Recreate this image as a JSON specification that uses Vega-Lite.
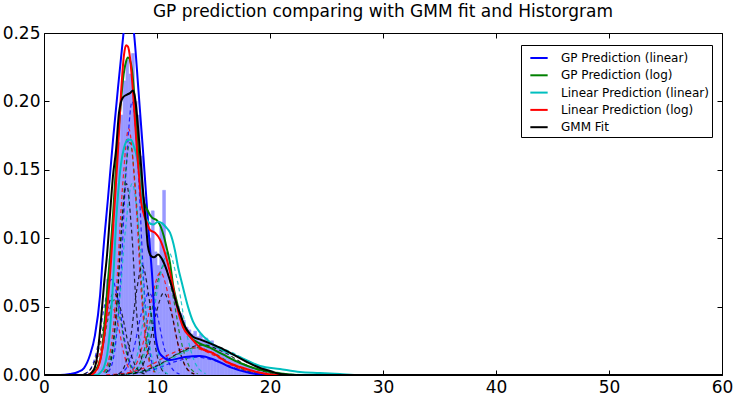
{
  "$schema": "https://vega.github.io/schema/vega-lite/v6.json",
  "width": 678,
  "height": 342,
  "autosize": {"type": "none"},
  "padding": {"left": 44, "top": 33, "right": 13, "bottom": 24},
  "title": {"text": "GP prediction comparing with GMM fit and Historgram", "fontSize": 17, "font": "DejaVu Sans", "fontWeight": "normal", "color": "black", "offset": 3, "anchor": "middle"},
  "config": {
    "view": {"stroke": "black", "strokeWidth": 1},
    "axis": {"labelFont": "DejaVu Sans", "labelFontSize": 17, "labelColor": "black", "domainColor": "black", "tickColor": "black", "grid": false, "title": null}
  },
  "resolve": {"axis": {"x": "independent", "y": "independent"}, "legend": {"color": "independent"}},
  "datasets": {
    "hist": [
      {"x0": 4.5, "x1": 4.75, "h": 0.002}, {"x0": 4.75, "x1": 5.0, "h": 0.006}, {"x0": 5.0, "x1": 5.25, "h": 0.015},
      {"x0": 5.25, "x1": 5.5, "h": 0.035}, {"x0": 5.5, "x1": 5.75, "h": 0.07}, {"x0": 5.75, "x1": 6.0, "h": 0.085},
      {"x0": 6.0, "x1": 6.25, "h": 0.11}, {"x0": 6.25, "x1": 6.5, "h": 0.14}, {"x0": 6.5, "x1": 6.75, "h": 0.17},
      {"x0": 6.75, "x1": 7.0, "h": 0.19}, {"x0": 7.0, "x1": 7.25, "h": 0.215}, {"x0": 7.25, "x1": 7.5, "h": 0.23},
      {"x0": 7.5, "x1": 7.75, "h": 0.22}, {"x0": 7.75, "x1": 8.0, "h": 0.235}, {"x0": 8.0, "x1": 8.25, "h": 0.2},
      {"x0": 8.25, "x1": 8.5, "h": 0.19}, {"x0": 8.5, "x1": 8.75, "h": 0.16}, {"x0": 8.75, "x1": 9.0, "h": 0.13},
      {"x0": 9.0, "x1": 9.25, "h": 0.12}, {"x0": 9.25, "x1": 9.5, "h": 0.1}, {"x0": 9.5, "x1": 9.75, "h": 0.12},
      {"x0": 9.75, "x1": 10.0, "h": 0.09}, {"x0": 10.0, "x1": 10.25, "h": 0.08}, {"x0": 10.25, "x1": 10.5, "h": 0.11},
      {"x0": 10.5, "x1": 10.75, "h": 0.135}, {"x0": 10.75, "x1": 11.0, "h": 0.09}, {"x0": 11.0, "x1": 11.25, "h": 0.065},
      {"x0": 11.25, "x1": 11.5, "h": 0.06}, {"x0": 11.5, "x1": 11.75, "h": 0.055}, {"x0": 11.75, "x1": 12.0, "h": 0.05},
      {"x0": 12.0, "x1": 12.25, "h": 0.045}, {"x0": 12.25, "x1": 12.5, "h": 0.04}, {"x0": 12.5, "x1": 12.75, "h": 0.035},
      {"x0": 12.75, "x1": 13.0, "h": 0.033}, {"x0": 13.0, "x1": 13.25, "h": 0.03}, {"x0": 13.25, "x1": 13.5, "h": 0.032},
      {"x0": 13.5, "x1": 13.75, "h": 0.028}, {"x0": 13.75, "x1": 14.0, "h": 0.03}, {"x0": 14.0, "x1": 14.25, "h": 0.026},
      {"x0": 14.25, "x1": 14.5, "h": 0.027}, {"x0": 14.5, "x1": 14.75, "h": 0.024}, {"x0": 14.75, "x1": 15.0, "h": 0.025},
      {"x0": 15.0, "x1": 15.25, "h": 0.022}, {"x0": 15.25, "x1": 15.5, "h": 0.02}, {"x0": 15.5, "x1": 15.75, "h": 0.019},
      {"x0": 15.75, "x1": 16.0, "h": 0.017}, {"x0": 16.0, "x1": 16.25, "h": 0.016}, {"x0": 16.25, "x1": 16.5, "h": 0.014},
      {"x0": 16.5, "x1": 16.75, "h": 0.012}, {"x0": 16.75, "x1": 17.0, "h": 0.011}, {"x0": 17.0, "x1": 17.25, "h": 0.01},
      {"x0": 17.25, "x1": 17.5, "h": 0.009}, {"x0": 17.5, "x1": 17.75, "h": 0.008}, {"x0": 17.75, "x1": 18.0, "h": 0.007},
      {"x0": 18.0, "x1": 18.25, "h": 0.006}, {"x0": 18.25, "x1": 18.5, "h": 0.005}, {"x0": 18.5, "x1": 18.75, "h": 0.005},
      {"x0": 18.75, "x1": 19.0, "h": 0.004}, {"x0": 19.0, "x1": 19.25, "h": 0.003}, {"x0": 19.25, "x1": 19.5, "h": 0.003},
      {"x0": 19.5, "x1": 19.75, "h": 0.002}, {"x0": 19.75, "x1": 20.0, "h": 0.002}, {"x0": 20.0, "x1": 20.25, "h": 0.001},
      {"x0": 20.25, "x1": 20.5, "h": 0.001}
    ],
    "comps": [
      {"c": "B1", "s": "GP Prediction (linear)", "x": 5.7, "y": 0.0022}, {"c": "B1", "s": "GP Prediction (linear)", "x": 6.225, "y": 0.016}, {"c": "B1", "s": "GP Prediction (linear)", "x": 6.75, "y": 0.065}, {"c": "B1", "s": "GP Prediction (linear)", "x": 7.275, "y": 0.151}, {"c": "B1", "s": "GP Prediction (linear)", "x": 7.8, "y": 0.2}, {"c": "B1", "s": "GP Prediction (linear)", "x": 8.325, "y": 0.151}, {"c": "B1", "s": "GP Prediction (linear)", "x": 8.85, "y": 0.065}, {"c": "B1", "s": "GP Prediction (linear)", "x": 9.375, "y": 0.016}, {"c": "B1", "s": "GP Prediction (linear)", "x": 9.9, "y": 0.0022},
      {"c": "B2", "s": "GP Prediction (linear)", "x": 3.6, "y": 0.0008}, {"c": "B2", "s": "GP Prediction (linear)", "x": 4.2, "y": 0.0056}, {"c": "B2", "s": "GP Prediction (linear)", "x": 4.8, "y": 0.0228}, {"c": "B2", "s": "GP Prediction (linear)", "x": 5.4, "y": 0.0529}, {"c": "B2", "s": "GP Prediction (linear)", "x": 6.0, "y": 0.07}, {"c": "B2", "s": "GP Prediction (linear)", "x": 6.6, "y": 0.0529}, {"c": "B2", "s": "GP Prediction (linear)", "x": 7.2, "y": 0.0228}, {"c": "B2", "s": "GP Prediction (linear)", "x": 7.8, "y": 0.0056}, {"c": "B2", "s": "GP Prediction (linear)", "x": 8.4, "y": 0.0008},
      {"c": "B3", "s": "GP Prediction (linear)", "x": 6.6, "y": 0.0007}, {"c": "B3", "s": "GP Prediction (linear)", "x": 7.275, "y": 0.0048}, {"c": "B3", "s": "GP Prediction (linear)", "x": 7.95, "y": 0.0195}, {"c": "B3", "s": "GP Prediction (linear)", "x": 8.625, "y": 0.0453}, {"c": "B3", "s": "GP Prediction (linear)", "x": 9.3, "y": 0.06}, {"c": "B3", "s": "GP Prediction (linear)", "x": 9.975, "y": 0.0453}, {"c": "B3", "s": "GP Prediction (linear)", "x": 10.65, "y": 0.0195}, {"c": "B3", "s": "GP Prediction (linear)", "x": 11.325, "y": 0.0048}, {"c": "B3", "s": "GP Prediction (linear)", "x": 12.0, "y": 0.0007},
      {"c": "B4", "s": "GP Prediction (linear)", "x": 6.0, "y": 0.0001}, {"c": "B4", "s": "GP Prediction (linear)", "x": 7.875, "y": 0.001}, {"c": "B4", "s": "GP Prediction (linear)", "x": 9.75, "y": 0.0042}, {"c": "B4", "s": "GP Prediction (linear)", "x": 11.625, "y": 0.0098}, {"c": "B4", "s": "GP Prediction (linear)", "x": 13.5, "y": 0.013}, {"c": "B4", "s": "GP Prediction (linear)", "x": 15.375, "y": 0.0098}, {"c": "B4", "s": "GP Prediction (linear)", "x": 17.25, "y": 0.0042}, {"c": "B4", "s": "GP Prediction (linear)", "x": 19.125, "y": 0.001}, {"c": "B4", "s": "GP Prediction (linear)", "x": 21.0, "y": 0.0001},
      {"c": "G1", "s": "GP Prediction (log)", "x": 5.35, "y": 0.0019}, {"c": "G1", "s": "GP Prediction (log)", "x": 5.9125, "y": 0.0136}, {"c": "G1", "s": "GP Prediction (log)", "x": 6.475, "y": 0.0553}, {"c": "G1", "s": "GP Prediction (log)", "x": 7.0375, "y": 0.1284}, {"c": "G1", "s": "GP Prediction (log)", "x": 7.6, "y": 0.17}, {"c": "G1", "s": "GP Prediction (log)", "x": 8.1625, "y": 0.1284}, {"c": "G1", "s": "GP Prediction (log)", "x": 8.725, "y": 0.0553}, {"c": "G1", "s": "GP Prediction (log)", "x": 9.2875, "y": 0.0136}, {"c": "G1", "s": "GP Prediction (log)", "x": 9.85, "y": 0.0019},
      {"c": "G2", "s": "GP Prediction (log)", "x": 7.6, "y": 0.0009}, {"c": "G2", "s": "GP Prediction (log)", "x": 8.35, "y": 0.0064}, {"c": "G2", "s": "GP Prediction (log)", "x": 9.1, "y": 0.026}, {"c": "G2", "s": "GP Prediction (log)", "x": 9.85, "y": 0.0604}, {"c": "G2", "s": "GP Prediction (log)", "x": 10.6, "y": 0.08}, {"c": "G2", "s": "GP Prediction (log)", "x": 11.35, "y": 0.0604}, {"c": "G2", "s": "GP Prediction (log)", "x": 12.1, "y": 0.026}, {"c": "G2", "s": "GP Prediction (log)", "x": 12.85, "y": 0.0064}, {"c": "G2", "s": "GP Prediction (log)", "x": 13.6, "y": 0.0009},
      {"c": "G3", "s": "GP Prediction (log)", "x": 6.6, "y": 0.0002}, {"c": "G3", "s": "GP Prediction (log)", "x": 8.325, "y": 0.0016}, {"c": "G3", "s": "GP Prediction (log)", "x": 10.05, "y": 0.0065}, {"c": "G3", "s": "GP Prediction (log)", "x": 11.775, "y": 0.0151}, {"c": "G3", "s": "GP Prediction (log)", "x": 13.5, "y": 0.02}, {"c": "G3", "s": "GP Prediction (log)", "x": 15.225, "y": 0.0151}, {"c": "G3", "s": "GP Prediction (log)", "x": 16.95, "y": 0.0065}, {"c": "G3", "s": "GP Prediction (log)", "x": 18.675, "y": 0.0016}, {"c": "G3", "s": "GP Prediction (log)", "x": 20.4, "y": 0.0002},
      {"c": "G4", "s": "GP Prediction (log)", "x": 4.1, "y": 0.0006}, {"c": "G4", "s": "GP Prediction (log)", "x": 4.625, "y": 0.0044}, {"c": "G4", "s": "GP Prediction (log)", "x": 5.15, "y": 0.0179}, {"c": "G4", "s": "GP Prediction (log)", "x": 5.675, "y": 0.0415}, {"c": "G4", "s": "GP Prediction (log)", "x": 6.2, "y": 0.055}, {"c": "G4", "s": "GP Prediction (log)", "x": 6.725, "y": 0.0415}, {"c": "G4", "s": "GP Prediction (log)", "x": 7.25, "y": 0.0179}, {"c": "G4", "s": "GP Prediction (log)", "x": 7.775, "y": 0.0044}, {"c": "G4", "s": "GP Prediction (log)", "x": 8.3, "y": 0.0006},
      {"c": "C1", "s": "Linear Prediction (linear)", "x": 5.4, "y": 0.0015}, {"c": "C1", "s": "Linear Prediction (linear)", "x": 6.0, "y": 0.0112}, {"c": "C1", "s": "Linear Prediction (linear)", "x": 6.6, "y": 0.0455}, {"c": "C1", "s": "Linear Prediction (linear)", "x": 7.2, "y": 0.1057}, {"c": "C1", "s": "Linear Prediction (linear)", "x": 7.8, "y": 0.14}, {"c": "C1", "s": "Linear Prediction (linear)", "x": 8.4, "y": 0.1057}, {"c": "C1", "s": "Linear Prediction (linear)", "x": 9.0, "y": 0.0455}, {"c": "C1", "s": "Linear Prediction (linear)", "x": 9.6, "y": 0.0112}, {"c": "C1", "s": "Linear Prediction (linear)", "x": 10.2, "y": 0.0015},
      {"c": "C2", "s": "Linear Prediction (linear)", "x": 7.7, "y": 0.001}, {"c": "C2", "s": "Linear Prediction (linear)", "x": 8.525, "y": 0.0072}, {"c": "C2", "s": "Linear Prediction (linear)", "x": 9.35, "y": 0.0293}, {"c": "C2", "s": "Linear Prediction (linear)", "x": 10.175, "y": 0.068}, {"c": "C2", "s": "Linear Prediction (linear)", "x": 11.0, "y": 0.09}, {"c": "C2", "s": "Linear Prediction (linear)", "x": 11.825, "y": 0.068}, {"c": "C2", "s": "Linear Prediction (linear)", "x": 12.65, "y": 0.0293}, {"c": "C2", "s": "Linear Prediction (linear)", "x": 13.475, "y": 0.0072}, {"c": "C2", "s": "Linear Prediction (linear)", "x": 14.3, "y": 0.001},
      {"c": "C3", "s": "Linear Prediction (linear)", "x": 6.1, "y": 0.0002}, {"c": "C3", "s": "Linear Prediction (linear)", "x": 8.2, "y": 0.0018}, {"c": "C3", "s": "Linear Prediction (linear)", "x": 10.3, "y": 0.0072}, {"c": "C3", "s": "Linear Prediction (linear)", "x": 12.4, "y": 0.0166}, {"c": "C3", "s": "Linear Prediction (linear)", "x": 14.5, "y": 0.022}, {"c": "C3", "s": "Linear Prediction (linear)", "x": 16.6, "y": 0.0166}, {"c": "C3", "s": "Linear Prediction (linear)", "x": 18.7, "y": 0.0072}, {"c": "C3", "s": "Linear Prediction (linear)", "x": 20.8, "y": 0.0018}, {"c": "C3", "s": "Linear Prediction (linear)", "x": 22.9, "y": 0.0002},
      {"c": "C4", "s": "Linear Prediction (linear)", "x": 7.4, "y": 0.0006}, {"c": "C4", "s": "Linear Prediction (linear)", "x": 7.85, "y": 0.004}, {"c": "C4", "s": "Linear Prediction (linear)", "x": 8.3, "y": 0.0163}, {"c": "C4", "s": "Linear Prediction (linear)", "x": 8.75, "y": 0.0378}, {"c": "C4", "s": "Linear Prediction (linear)", "x": 9.2, "y": 0.05}, {"c": "C4", "s": "Linear Prediction (linear)", "x": 9.65, "y": 0.0378}, {"c": "C4", "s": "Linear Prediction (linear)", "x": 10.1, "y": 0.0163}, {"c": "C4", "s": "Linear Prediction (linear)", "x": 10.55, "y": 0.004}, {"c": "C4", "s": "Linear Prediction (linear)", "x": 11.0, "y": 0.0006},
      {"c": "R1", "s": "Linear Prediction (log)", "x": 5.25, "y": 0.002}, {"c": "R1", "s": "Linear Prediction (log)", "x": 5.8125, "y": 0.0144}, {"c": "R1", "s": "Linear Prediction (log)", "x": 6.375, "y": 0.0585}, {"c": "R1", "s": "Linear Prediction (log)", "x": 6.9375, "y": 0.1359}, {"c": "R1", "s": "Linear Prediction (log)", "x": 7.5, "y": 0.18}, {"c": "R1", "s": "Linear Prediction (log)", "x": 8.0625, "y": 0.1359}, {"c": "R1", "s": "Linear Prediction (log)", "x": 8.625, "y": 0.0585}, {"c": "R1", "s": "Linear Prediction (log)", "x": 9.1875, "y": 0.0144}, {"c": "R1", "s": "Linear Prediction (log)", "x": 9.75, "y": 0.002},
      {"c": "R2", "s": "Linear Prediction (log)", "x": 7.3, "y": 0.0008}, {"c": "R2", "s": "Linear Prediction (log)", "x": 8.05, "y": 0.006}, {"c": "R2", "s": "Linear Prediction (log)", "x": 8.8, "y": 0.0244}, {"c": "R2", "s": "Linear Prediction (log)", "x": 9.55, "y": 0.0566}, {"c": "R2", "s": "Linear Prediction (log)", "x": 10.3, "y": 0.075}, {"c": "R2", "s": "Linear Prediction (log)", "x": 11.05, "y": 0.0566}, {"c": "R2", "s": "Linear Prediction (log)", "x": 11.8, "y": 0.0244}, {"c": "R2", "s": "Linear Prediction (log)", "x": 12.55, "y": 0.006}, {"c": "R2", "s": "Linear Prediction (log)", "x": 13.3, "y": 0.0008},
      {"c": "R3", "s": "Linear Prediction (log)", "x": 5.5, "y": 0.0002}, {"c": "R3", "s": "Linear Prediction (log)", "x": 7.375, "y": 0.0016}, {"c": "R3", "s": "Linear Prediction (log)", "x": 9.25, "y": 0.0065}, {"c": "R3", "s": "Linear Prediction (log)", "x": 11.125, "y": 0.0151}, {"c": "R3", "s": "Linear Prediction (log)", "x": 13.0, "y": 0.02}, {"c": "R3", "s": "Linear Prediction (log)", "x": 14.875, "y": 0.0151}, {"c": "R3", "s": "Linear Prediction (log)", "x": 16.75, "y": 0.0065}, {"c": "R3", "s": "Linear Prediction (log)", "x": 18.625, "y": 0.0016}, {"c": "R3", "s": "Linear Prediction (log)", "x": 20.5, "y": 0.0002},
      {"c": "R4", "s": "Linear Prediction (log)", "x": 3.9, "y": 0.0006}, {"c": "R4", "s": "Linear Prediction (log)", "x": 4.425, "y": 0.004}, {"c": "R4", "s": "Linear Prediction (log)", "x": 4.95, "y": 0.0163}, {"c": "R4", "s": "Linear Prediction (log)", "x": 5.475, "y": 0.0378}, {"c": "R4", "s": "Linear Prediction (log)", "x": 6.0, "y": 0.05}, {"c": "R4", "s": "Linear Prediction (log)", "x": 6.525, "y": 0.0378}, {"c": "R4", "s": "Linear Prediction (log)", "x": 7.05, "y": 0.0163}, {"c": "R4", "s": "Linear Prediction (log)", "x": 7.575, "y": 0.004}, {"c": "R4", "s": "Linear Prediction (log)", "x": 8.1, "y": 0.0006},
      {"c": "K1", "s": "GMM Fit", "x": 5.5, "y": 0.0015}, {"c": "K1", "s": "GMM Fit", "x": 5.95, "y": 0.0112}, {"c": "K1", "s": "GMM Fit", "x": 6.4, "y": 0.0455}, {"c": "K1", "s": "GMM Fit", "x": 6.85, "y": 0.1057}, {"c": "K1", "s": "GMM Fit", "x": 7.3, "y": 0.14}, {"c": "K1", "s": "GMM Fit", "x": 7.75, "y": 0.1057}, {"c": "K1", "s": "GMM Fit", "x": 8.2, "y": 0.0455}, {"c": "K1", "s": "GMM Fit", "x": 8.65, "y": 0.0112}, {"c": "K1", "s": "GMM Fit", "x": 9.1, "y": 0.0015},
      {"c": "K2", "s": "GMM Fit", "x": 3.5, "y": 0.0007}, {"c": "K2", "s": "GMM Fit", "x": 4.175, "y": 0.0048}, {"c": "K2", "s": "GMM Fit", "x": 4.85, "y": 0.0195}, {"c": "K2", "s": "GMM Fit", "x": 5.525, "y": 0.0453}, {"c": "K2", "s": "GMM Fit", "x": 6.2, "y": 0.06}, {"c": "K2", "s": "GMM Fit", "x": 6.875, "y": 0.0453}, {"c": "K2", "s": "GMM Fit", "x": 7.55, "y": 0.0195}, {"c": "K2", "s": "GMM Fit", "x": 8.225, "y": 0.0048}, {"c": "K2", "s": "GMM Fit", "x": 8.9, "y": 0.0007},
      {"c": "K3", "s": "GMM Fit", "x": 6.6, "y": 0.0009}, {"c": "K3", "s": "GMM Fit", "x": 7.125, "y": 0.0064}, {"c": "K3", "s": "GMM Fit", "x": 7.65, "y": 0.026}, {"c": "K3", "s": "GMM Fit", "x": 8.175, "y": 0.0604}, {"c": "K3", "s": "GMM Fit", "x": 8.7, "y": 0.08}, {"c": "K3", "s": "GMM Fit", "x": 9.225, "y": 0.0604}, {"c": "K3", "s": "GMM Fit", "x": 9.75, "y": 0.026}, {"c": "K3", "s": "GMM Fit", "x": 10.275, "y": 0.0064}, {"c": "K3", "s": "GMM Fit", "x": 10.8, "y": 0.0009},
      {"c": "K4", "s": "GMM Fit", "x": 7.9, "y": 0.0007}, {"c": "K4", "s": "GMM Fit", "x": 8.575, "y": 0.0048}, {"c": "K4", "s": "GMM Fit", "x": 9.25, "y": 0.0195}, {"c": "K4", "s": "GMM Fit", "x": 9.925, "y": 0.0453}, {"c": "K4", "s": "GMM Fit", "x": 10.6, "y": 0.06}, {"c": "K4", "s": "GMM Fit", "x": 11.275, "y": 0.0453}, {"c": "K4", "s": "GMM Fit", "x": 11.95, "y": 0.0195}, {"c": "K4", "s": "GMM Fit", "x": 12.625, "y": 0.0048}, {"c": "K4", "s": "GMM Fit", "x": 13.3, "y": 0.0007},
      {"c": "K5", "s": "GMM Fit", "x": 6.2, "y": 0.0002}, {"c": "K5", "s": "GMM Fit", "x": 8.15, "y": 0.0018}, {"c": "K5", "s": "GMM Fit", "x": 10.1, "y": 0.0072}, {"c": "K5", "s": "GMM Fit", "x": 12.05, "y": 0.0166}, {"c": "K5", "s": "GMM Fit", "x": 14.0, "y": 0.022}, {"c": "K5", "s": "GMM Fit", "x": 15.95, "y": 0.0166}, {"c": "K5", "s": "GMM Fit", "x": 17.9, "y": 0.0072}, {"c": "K5", "s": "GMM Fit", "x": 19.85, "y": 0.0018}, {"c": "K5", "s": "GMM Fit", "x": 21.8, "y": 0.0002}
    ],
    "lines": [
      {"s": "GP Prediction (linear)", "x": 0, "y": 0}, {"s": "GP Prediction (linear)", "x": 1.42, "y": 0}, {"s": "GP Prediction (linear)", "x": 2.3, "y": 0.0007}, {"s": "GP Prediction (linear)", "x": 3.01, "y": 0.0022}, {"s": "GP Prediction (linear)", "x": 3.54, "y": 0.0051}, {"s": "GP Prediction (linear)", "x": 4.07, "y": 0.0146}, {"s": "GP Prediction (linear)", "x": 4.51, "y": 0.029}, {"s": "GP Prediction (linear)", "x": 4.96, "y": 0.058}, {"s": "GP Prediction (linear)", "x": 5.22, "y": 0.088}, {"s": "GP Prediction (linear)", "x": 5.66, "y": 0.129}, {"s": "GP Prediction (linear)", "x": 6.11, "y": 0.172}, {"s": "GP Prediction (linear)", "x": 6.55, "y": 0.21}, {"s": "GP Prediction (linear)", "x": 6.99, "y": 0.246}, {"s": "GP Prediction (linear)", "x": 7.2, "y": 0.262}, {"s": "GP Prediction (linear)", "x": 7.48, "y": 0.268}, {"s": "GP Prediction (linear)", "x": 7.75, "y": 0.262}, {"s": "GP Prediction (linear)", "x": 7.96, "y": 0.25}, {"s": "GP Prediction (linear)", "x": 8.36, "y": 0.208}, {"s": "GP Prediction (linear)", "x": 8.76, "y": 0.164}, {"s": "GP Prediction (linear)", "x": 8.94, "y": 0.143}, {"s": "GP Prediction (linear)", "x": 9.29, "y": 0.102}, {"s": "GP Prediction (linear)", "x": 9.65, "y": 0.062}, {"s": "GP Prediction (linear)", "x": 9.82, "y": 0.033}, {"s": "GP Prediction (linear)", "x": 10.0, "y": 0.022}, {"s": "GP Prediction (linear)", "x": 10.35, "y": 0.0146}, {"s": "GP Prediction (linear)", "x": 11.15, "y": 0.011}, {"s": "GP Prediction (linear)", "x": 12.48, "y": 0.0132}, {"s": "GP Prediction (linear)", "x": 13.81, "y": 0.0139}, {"s": "GP Prediction (linear)", "x": 15.13, "y": 0.011}, {"s": "GP Prediction (linear)", "x": 16.46, "y": 0.0058}, {"s": "GP Prediction (linear)", "x": 18.23, "y": 0.0015}, {"s": "GP Prediction (linear)", "x": 20.0, "y": 0}, {"s": "GP Prediction (linear)", "x": 60, "y": 0},
      {"s": "GP Prediction (log)", "x": 0, "y": 0}, {"s": "GP Prediction (log)", "x": 3.89, "y": 0}, {"s": "GP Prediction (log)", "x": 4.34, "y": 0.0015}, {"s": "GP Prediction (log)", "x": 4.69, "y": 0.0051}, {"s": "GP Prediction (log)", "x": 4.96, "y": 0.011}, {"s": "GP Prediction (log)", "x": 5.13, "y": 0.018}, {"s": "GP Prediction (log)", "x": 5.31, "y": 0.033}, {"s": "GP Prediction (log)", "x": 5.49, "y": 0.051}, {"s": "GP Prediction (log)", "x": 5.66, "y": 0.069}, {"s": "GP Prediction (log)", "x": 5.84, "y": 0.086}, {"s": "GP Prediction (log)", "x": 6.11, "y": 0.117}, {"s": "GP Prediction (log)", "x": 6.46, "y": 0.164}, {"s": "GP Prediction (log)", "x": 6.73, "y": 0.192}, {"s": "GP Prediction (log)", "x": 6.99, "y": 0.216}, {"s": "GP Prediction (log)", "x": 7.26, "y": 0.229}, {"s": "GP Prediction (log)", "x": 7.43, "y": 0.232}, {"s": "GP Prediction (log)", "x": 7.61, "y": 0.23}, {"s": "GP Prediction (log)", "x": 7.79, "y": 0.223}, {"s": "GP Prediction (log)", "x": 7.96, "y": 0.208}, {"s": "GP Prediction (log)", "x": 8.14, "y": 0.19}, {"s": "GP Prediction (log)", "x": 8.32, "y": 0.164}, {"s": "GP Prediction (log)", "x": 8.5, "y": 0.146}, {"s": "GP Prediction (log)", "x": 8.76, "y": 0.129}, {"s": "GP Prediction (log)", "x": 9.12, "y": 0.121}, {"s": "GP Prediction (log)", "x": 9.56, "y": 0.115}, {"s": "GP Prediction (log)", "x": 10.0, "y": 0.113}, {"s": "GP Prediction (log)", "x": 10.35, "y": 0.108}, {"s": "GP Prediction (log)", "x": 10.62, "y": 0.101}, {"s": "GP Prediction (log)", "x": 10.88, "y": 0.092}, {"s": "GP Prediction (log)", "x": 11.15, "y": 0.082}, {"s": "GP Prediction (log)", "x": 11.42, "y": 0.066}, {"s": "GP Prediction (log)", "x": 11.77, "y": 0.053}, {"s": "GP Prediction (log)", "x": 12.04, "y": 0.044}, {"s": "GP Prediction (log)", "x": 12.48, "y": 0.034}, {"s": "GP Prediction (log)", "x": 12.92, "y": 0.028}, {"s": "GP Prediction (log)", "x": 13.81, "y": 0.023}, {"s": "GP Prediction (log)", "x": 14.69, "y": 0.02}, {"s": "GP Prediction (log)", "x": 15.84, "y": 0.015}, {"s": "GP Prediction (log)", "x": 17.35, "y": 0.0088}, {"s": "GP Prediction (log)", "x": 18.85, "y": 0.0044}, {"s": "GP Prediction (log)", "x": 20.0, "y": 0.0022}, {"s": "GP Prediction (log)", "x": 21.33, "y": 0.0007}, {"s": "GP Prediction (log)", "x": 22.65, "y": 0}, {"s": "GP Prediction (log)", "x": 60, "y": 0},
      {"s": "Linear Prediction (linear)", "x": 0, "y": 0}, {"s": "Linear Prediction (linear)", "x": 4.69, "y": 0}, {"s": "Linear Prediction (linear)", "x": 5.04, "y": 0.0022}, {"s": "Linear Prediction (linear)", "x": 5.31, "y": 0.0058}, {"s": "Linear Prediction (linear)", "x": 5.58, "y": 0.0146}, {"s": "Linear Prediction (linear)", "x": 5.84, "y": 0.033}, {"s": "Linear Prediction (linear)", "x": 6.02, "y": 0.055}, {"s": "Linear Prediction (linear)", "x": 6.19, "y": 0.08}, {"s": "Linear Prediction (linear)", "x": 6.37, "y": 0.11}, {"s": "Linear Prediction (linear)", "x": 6.55, "y": 0.132}, {"s": "Linear Prediction (linear)", "x": 6.81, "y": 0.154}, {"s": "Linear Prediction (linear)", "x": 7.08, "y": 0.166}, {"s": "Linear Prediction (linear)", "x": 7.43, "y": 0.172}, {"s": "Linear Prediction (linear)", "x": 7.7, "y": 0.172}, {"s": "Linear Prediction (linear)", "x": 7.96, "y": 0.167}, {"s": "Linear Prediction (linear)", "x": 8.23, "y": 0.159}, {"s": "Linear Prediction (linear)", "x": 8.5, "y": 0.143}, {"s": "Linear Prediction (linear)", "x": 8.67, "y": 0.128}, {"s": "Linear Prediction (linear)", "x": 8.94, "y": 0.117}, {"s": "Linear Prediction (linear)", "x": 9.2, "y": 0.112}, {"s": "Linear Prediction (linear)", "x": 9.65, "y": 0.11}, {"s": "Linear Prediction (linear)", "x": 10.09, "y": 0.112}, {"s": "Linear Prediction (linear)", "x": 10.44, "y": 0.111}, {"s": "Linear Prediction (linear)", "x": 10.8, "y": 0.108}, {"s": "Linear Prediction (linear)", "x": 11.15, "y": 0.104}, {"s": "Linear Prediction (linear)", "x": 11.59, "y": 0.091}, {"s": "Linear Prediction (linear)", "x": 11.86, "y": 0.079}, {"s": "Linear Prediction (linear)", "x": 12.21, "y": 0.067}, {"s": "Linear Prediction (linear)", "x": 12.74, "y": 0.05}, {"s": "Linear Prediction (linear)", "x": 13.19, "y": 0.039}, {"s": "Linear Prediction (linear)", "x": 13.81, "y": 0.031}, {"s": "Linear Prediction (linear)", "x": 14.69, "y": 0.024}, {"s": "Linear Prediction (linear)", "x": 15.84, "y": 0.018}, {"s": "Linear Prediction (linear)", "x": 17.35, "y": 0.013}, {"s": "Linear Prediction (linear)", "x": 19.12, "y": 0.0066}, {"s": "Linear Prediction (linear)", "x": 20.88, "y": 0.0044}, {"s": "Linear Prediction (linear)", "x": 22.65, "y": 0.0022}, {"s": "Linear Prediction (linear)", "x": 24.42, "y": 0.0015}, {"s": "Linear Prediction (linear)", "x": 26.19, "y": 0.0007}, {"s": "Linear Prediction (linear)", "x": 27.96, "y": 0}, {"s": "Linear Prediction (linear)", "x": 60, "y": 0},
      {"s": "Linear Prediction (log)", "x": 0, "y": 0}, {"s": "Linear Prediction (log)", "x": 4.07, "y": 0}, {"s": "Linear Prediction (log)", "x": 4.51, "y": 0.0022}, {"s": "Linear Prediction (log)", "x": 4.87, "y": 0.0073}, {"s": "Linear Prediction (log)", "x": 5.13, "y": 0.017}, {"s": "Linear Prediction (log)", "x": 5.4, "y": 0.033}, {"s": "Linear Prediction (log)", "x": 5.66, "y": 0.055}, {"s": "Linear Prediction (log)", "x": 5.93, "y": 0.083}, {"s": "Linear Prediction (log)", "x": 6.19, "y": 0.117}, {"s": "Linear Prediction (log)", "x": 6.55, "y": 0.164}, {"s": "Linear Prediction (log)", "x": 6.81, "y": 0.205}, {"s": "Linear Prediction (log)", "x": 7.08, "y": 0.234}, {"s": "Linear Prediction (log)", "x": 7.26, "y": 0.241}, {"s": "Linear Prediction (log)", "x": 7.43, "y": 0.24}, {"s": "Linear Prediction (log)", "x": 7.61, "y": 0.232}, {"s": "Linear Prediction (log)", "x": 7.79, "y": 0.216}, {"s": "Linear Prediction (log)", "x": 8.05, "y": 0.186}, {"s": "Linear Prediction (log)", "x": 8.23, "y": 0.164}, {"s": "Linear Prediction (log)", "x": 8.41, "y": 0.146}, {"s": "Linear Prediction (log)", "x": 8.58, "y": 0.128}, {"s": "Linear Prediction (log)", "x": 8.85, "y": 0.117}, {"s": "Linear Prediction (log)", "x": 9.12, "y": 0.111}, {"s": "Linear Prediction (log)", "x": 9.38, "y": 0.106}, {"s": "Linear Prediction (log)", "x": 9.82, "y": 0.104}, {"s": "Linear Prediction (log)", "x": 10.27, "y": 0.099}, {"s": "Linear Prediction (log)", "x": 10.71, "y": 0.089}, {"s": "Linear Prediction (log)", "x": 11.15, "y": 0.075}, {"s": "Linear Prediction (log)", "x": 11.42, "y": 0.064}, {"s": "Linear Prediction (log)", "x": 11.77, "y": 0.05}, {"s": "Linear Prediction (log)", "x": 12.3, "y": 0.035}, {"s": "Linear Prediction (log)", "x": 12.92, "y": 0.028}, {"s": "Linear Prediction (log)", "x": 13.81, "y": 0.02}, {"s": "Linear Prediction (log)", "x": 14.96, "y": 0.016}, {"s": "Linear Prediction (log)", "x": 16.19, "y": 0.0095}, {"s": "Linear Prediction (log)", "x": 17.35, "y": 0.0058}, {"s": "Linear Prediction (log)", "x": 18.85, "y": 0.0022}, {"s": "Linear Prediction (log)", "x": 20.44, "y": 0}, {"s": "Linear Prediction (log)", "x": 60, "y": 0},
      {"s": "GMM Fit", "x": 0, "y": 0}, {"s": "GMM Fit", "x": 3.89, "y": 0}, {"s": "GMM Fit", "x": 4.25, "y": 0.0022}, {"s": "GMM Fit", "x": 4.51, "y": 0.0058}, {"s": "GMM Fit", "x": 4.78, "y": 0.018}, {"s": "GMM Fit", "x": 5.04, "y": 0.04}, {"s": "GMM Fit", "x": 5.31, "y": 0.066}, {"s": "GMM Fit", "x": 5.58, "y": 0.088}, {"s": "GMM Fit", "x": 5.84, "y": 0.117}, {"s": "GMM Fit", "x": 6.11, "y": 0.146}, {"s": "GMM Fit", "x": 6.37, "y": 0.164}, {"s": "GMM Fit", "x": 6.64, "y": 0.192}, {"s": "GMM Fit", "x": 6.99, "y": 0.203}, {"s": "GMM Fit", "x": 7.35, "y": 0.205}, {"s": "GMM Fit", "x": 7.61, "y": 0.206}, {"s": "GMM Fit", "x": 7.88, "y": 0.208}, {"s": "GMM Fit", "x": 8.05, "y": 0.203}, {"s": "GMM Fit", "x": 8.23, "y": 0.19}, {"s": "GMM Fit", "x": 8.41, "y": 0.172}, {"s": "GMM Fit", "x": 8.58, "y": 0.154}, {"s": "GMM Fit", "x": 8.76, "y": 0.135}, {"s": "GMM Fit", "x": 9.03, "y": 0.11}, {"s": "GMM Fit", "x": 9.2, "y": 0.094}, {"s": "GMM Fit", "x": 9.47, "y": 0.087}, {"s": "GMM Fit", "x": 9.73, "y": 0.086}, {"s": "GMM Fit", "x": 10.09, "y": 0.088}, {"s": "GMM Fit", "x": 10.35, "y": 0.086}, {"s": "GMM Fit", "x": 10.71, "y": 0.08}, {"s": "GMM Fit", "x": 11.15, "y": 0.069}, {"s": "GMM Fit", "x": 11.42, "y": 0.061}, {"s": "GMM Fit", "x": 11.77, "y": 0.051}, {"s": "GMM Fit", "x": 12.04, "y": 0.045}, {"s": "GMM Fit", "x": 12.39, "y": 0.037}, {"s": "GMM Fit", "x": 12.65, "y": 0.033}, {"s": "GMM Fit", "x": 13.19, "y": 0.028}, {"s": "GMM Fit", "x": 13.81, "y": 0.026}, {"s": "GMM Fit", "x": 14.42, "y": 0.024}, {"s": "GMM Fit", "x": 15.58, "y": 0.02}, {"s": "GMM Fit", "x": 16.73, "y": 0.015}, {"s": "GMM Fit", "x": 17.96, "y": 0.0095}, {"s": "GMM Fit", "x": 19.12, "y": 0.0051}, {"s": "GMM Fit", "x": 20.0, "y": 0.0029}, {"s": "GMM Fit", "x": 20.88, "y": 0.0007}, {"s": "GMM Fit", "x": 22.2, "y": 0}, {"s": "GMM Fit", "x": 60, "y": 0}
    ]
  },
  "layer": [
    {
      "data": {"name": "hist"},
      "mark": {"type": "rect", "fill": "#9999ff", "stroke": "#9999ff", "strokeWidth": 0.6, "clip": true},
      "encoding": {
        "x": {"field": "x0", "type": "quantitative", "scale": {"domain": [0, 60], "nice": false, "zero": false},
              "axis": {"orient": "bottom", "values": [0, 10, 20, 30, 40, 50, 60], "tickSize": -5, "labelPadding": 9, "domain": false, "labelFlush": false}},
        "x2": {"field": "x1"},
        "y": {"field": "h", "type": "quantitative", "scale": {"domain": [0, 0.25], "nice": false},
              "axis": {"orient": "left", "values": [0, 0.05, 0.1, 0.15, 0.2, 0.25], "format": ".2f", "tickSize": -5, "labelPadding": 9, "domain": false, "labelFlush": false}},
        "y2": {"datum": 0}
      }
    },
    {
      "data": {"name": "comps"},
      "mark": {"type": "line", "strokeDash": [4, 3], "strokeWidth": 1.2, "opacity": 0.8, "interpolate": "monotone", "clip": true},
      "encoding": {
        "x": {"field": "x", "type": "quantitative", "axis": {"orient": "top", "labels": false, "values": [0, 10, 20, 30, 40, 50, 60], "tickSize": -5, "domain": false}},
        "y": {"field": "y", "type": "quantitative", "axis": {"orient": "right", "labels": false, "values": [0, 0.05, 0.1, 0.15, 0.2, 0.25], "tickSize": -5, "domain": false}},
        "detail": {"field": "c"},
        "color": {"field": "s", "type": "nominal", "legend": null,
                  "scale": {"domain": ["GP Prediction (linear)", "GP Prediction (log)", "Linear Prediction (linear)", "Linear Prediction (log)", "GMM Fit"], "range": ["#0000ff", "#008000", "#00bfbf", "#ff0000", "#000000"]}}
      }
    },
    {
      "data": {"name": "lines"},
      "mark": {"type": "line", "strokeWidth": 2, "interpolate": "monotone", "clip": true},
      "encoding": {
        "x": {"field": "x", "type": "quantitative", "axis": null},
        "y": {"field": "y", "type": "quantitative", "axis": null},
        "color": {"field": "s", "type": "nominal", "sort": null,
                  "legend": {"orient": "none", "legendX": 477, "legendY": 12, "title": null, "symbolType": "stroke", "symbolSize": 300, "symbolStrokeWidth": 2, "labelFontSize": 12, "labelFont": "DejaVu Sans", "labelColor": "black", "strokeColor": "black", "fillColor": "white", "padding": 3, "rowPadding": 1.3, "symbolOffset": 5, "labelOffset": 12, "cornerRadius": 0}}
      }
    }
  ]
}
